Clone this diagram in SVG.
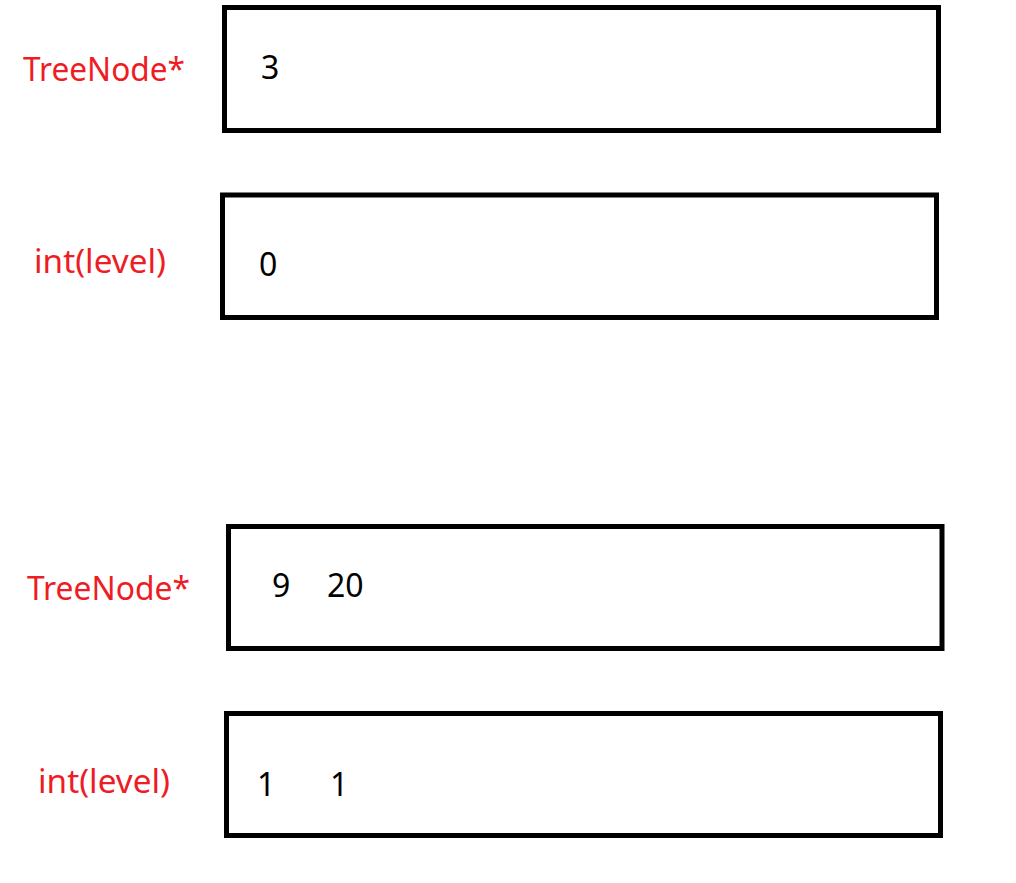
<svg xmlns="http://www.w3.org/2000/svg" width="1016" height="883" viewBox="0 0 1016 883">
<style>
.box{fill:none;stroke:#000;stroke-width:5}
.lbl{fill:#ee1c25;font-family:"Noto Sans","Liberation Sans",sans-serif;font-size:32px}
.val{fill:#000;font-family:"Noto Sans","Liberation Sans",sans-serif;font-size:32px}
</style>
<rect width="1016" height="883" fill="#fff"/>
<g id="row1">
<text class="lbl" x="23" y="81" textLength="162" lengthAdjust="spacingAndGlyphs">TreeNode*</text>
<rect class="box" x="224.5" y="7.5" width="714" height="123"/>
<text class="val" x="261" y="79">3</text>
</g>
<g id="row2">
<text class="lbl" x="34" y="273" textLength="132" lengthAdjust="spacingAndGlyphs">int(level)</text>
<rect class="box" x="222.5" y="195" width="714" height="122.5"/>
<text class="val" x="259" y="276">0</text>
</g>
<g id="row3">
<text class="lbl" x="27" y="600" textLength="163" lengthAdjust="spacingAndGlyphs">TreeNode*</text>
<rect class="box" x="228.5" y="526.5" width="713.5" height="122"/>
<text class="val" x="272" y="597">9</text>
<text class="val" x="327" y="597">20</text>
</g>
<g id="row4">
<text class="lbl" x="38" y="793" textLength="132" lengthAdjust="spacingAndGlyphs">int(level)</text>
<rect class="box" x="226.5" y="713.5" width="714" height="122"/>
<text class="val" x="257" y="796">1</text>
<text class="val" x="330" y="796">1</text>
</g>
<g id="connectors"></g>
</svg>
